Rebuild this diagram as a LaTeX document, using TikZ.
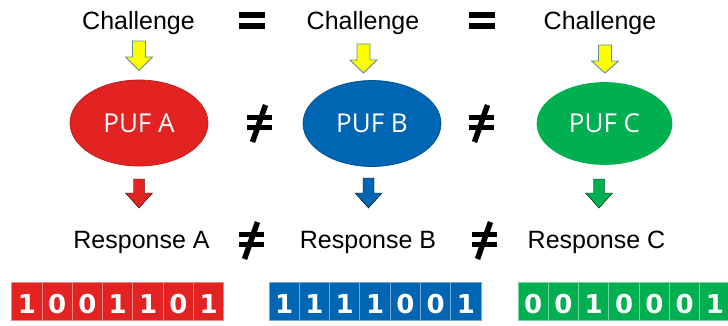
\documentclass[tikz,border=0pt]{standalone}
\usepackage{fontspec}
\setmainfont{Liberation Sans}
\newfontfamily\puffont{Open Sans}
\newfontfamily\bitfont{DejaVu Sans}
\usetikzlibrary{shapes.geometric}

\definecolor{pufred}{HTML}{E32322}
\definecolor{pufblue}{HTML}{0065B2}
\definecolor{pufgreen}{HTML}{00B050}
\definecolor{chalyellow}{HTML}{FFFF00}
\definecolor{chaledge}{HTML}{5B8C9C}

% block arrow pointing down: x, top, neck, tip, half shaft, half head
\newcommand{\blockdown}[7]{%
  \filldraw[#7] (#1-#5,#2) -- (#1+#5,#2) -- (#1+#5,#3) -- (#1+#6,#3) --
    (#1,#4) -- (#1-#6,#3) -- (#1-#5,#3) -- cycle;}

\tikzset{
  label text/.style={font=\fontsize{25}{28}\selectfont, anchor=base, inner sep=0pt},
  puf/.style={ellipse, inner sep=0pt, minimum width=138pt, minimum height=86pt,
    text=white, font=\puffont\fontsize{26}{30}\selectfont, line width=0.7pt},
  bitcell/.style={line width=0.9pt},
  bit text/.style={font=\bitfont\bfseries\fontsize{26}{30}\selectfont, text=white,
    anchor=base, inner sep=0pt},
  neq/.pic={
    \fill (-12.5,-8) rectangle (12.5,-3);
    \fill (-12.5,2) rectangle (12.5,7);
    \draw[line width=5.5pt] (6.5,-18) -- (-6.5,19);
  },
  eqsign/.pic={
    \fill (-13,-8) rectangle (13,-2);
    \fill (-13,3) rectangle (13,8.5);
  }
}

\begin{document}
\begin{tikzpicture}[x=1pt,y=-1pt]
\clip (0,0) rectangle (728,325);
\fill[white] (0,0) rectangle (728,325);

% challenges
\node[label text] (ca) at (138.5,29) {Challenge};
\node[label text] (cb) at (363,29) {Challenge};
\node[label text] (cc) at (600,29) {Challenge};
\pic at (252,20) {eqsign};
\pic at (482,20) {eqsign};

% challenge arrows
\blockdown{139}{41}{57}{70.5}{6.5}{13.5}{fill=chalyellow, draw=chaledge, line width=0.9pt}
\blockdown{363.5}{44}{60}{73}{6.5}{13.5}{fill=chalyellow, draw=chaledge, line width=0.9pt}
\blockdown{605}{45}{61}{73}{6.5}{13.5}{fill=chalyellow, draw=chaledge, line width=0.9pt}

% PUFs
\node[puf, fill=pufred, draw=pufred!80!black] (pa) at (139,123) {PUF A};
\node[puf, fill=pufblue, draw=pufblue!80!black] (pb) at (372,123.5) {PUF B};
\node[puf, fill=pufgreen, draw=pufgreen, minimum width=135pt, minimum height=82pt] (pc) at (604.5,123.5) {PUF C};
\pic at (259,123) {neq};
\pic at (481,123) {neq};

% response arrows
\blockdown{139}{179}{193}{208}{5.5}{13.5}{fill=pufred}
\blockdown{368.5}{178}{193}{208}{5.5}{13.5}{fill=pufblue}
\blockdown{599}{179}{193}{208}{5.5}{13.5}{fill=pufgreen}

% responses
\node[label text] (ra) at (141.5,248) {Response A};
\node[label text] (rb) at (368,248) {Response B};
\node[label text] (rc) at (596.5,248) {Response C};
\pic at (251,240) {neq};
\pic at (484,240) {neq};

% response bit strings
\foreach \bits/\x/\col in {{1,0,0,1,1,0,1}/11.7/pufred,
                           {1,1,1,1,0,0,1}/269/pufblue,
                           {0,0,1,0,0,0,1}/518/pufgreen}{
  \foreach \b [count=\i from 0] in \bits {
    \pgfmathsetmacro{\xl}{\x+30.3*\i}
    \filldraw[bitcell, fill=\col, draw=\col!55!white] (\xl,282) rectangle ++(30.3,38);
    \node[bit text] at (\xl+15.15,313) {\b};
  }
}
\end{tikzpicture}
\end{document}
